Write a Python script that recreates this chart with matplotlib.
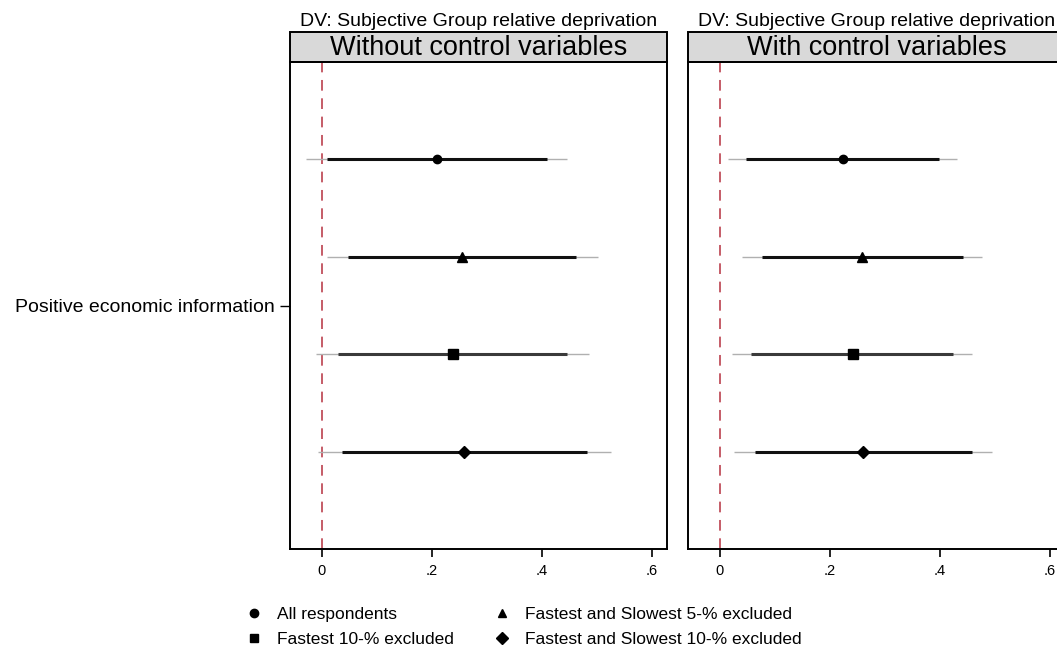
import matplotlib.pyplot as plt
from matplotlib.lines import Line2D
from matplotlib.patches import Rectangle

plt.rcParams['font.family'] = ['Liberation Sans', 'DejaVu Sans']

# =========================
# Data
# =========================
series = ["All respondents", "Fastest 10-% excluded",
          "Fastest and Slowest 5-% excluded", "Fastest and Slowest 10-% excluded"]
markers = ["o", "s", "^", "D"]
# row order top to bottom: all, F&S 5%, fastest 10%, F&S 10%
row_pos = {"All respondents": 1.30, "Fastest and Slowest 5-% excluded": 1.10,
           "Fastest 10-% excluded": 0.90, "Fastest and Slowest 10-% excluded": 0.70}

panels = ["Without control variables", "With control variables"]

# point estimates, 90% CI, 95% CI  (order = series)
coef_wo = [0.209, 0.238, 0.255, 0.259]
ci90_lo_wo = [0.009, 0.030, 0.048, 0.036]
ci90_hi_wo = [0.409, 0.445, 0.462, 0.482]
ci95_lo_wo = [-0.029, -0.010, 0.009, -0.007]
ci95_hi_wo = [0.446, 0.485, 0.502, 0.525]

coef_w = [0.223, 0.241, 0.258, 0.260]
ci90_lo_w = [0.047, 0.057, 0.076, 0.064]
ci90_hi_w = [0.398, 0.423, 0.441, 0.458]
ci95_lo_w = [0.014, 0.022, 0.041, 0.026]
ci95_hi_w = [0.431, 0.458, 0.476, 0.495]

data = [
    (coef_wo, ci90_lo_wo, ci90_hi_wo, ci95_lo_wo, ci95_hi_wo),
    (coef_w, ci90_lo_w, ci90_hi_w, ci95_lo_w, ci95_hi_w),
]

xticks = [0, 0.2, 0.4, 0.6]
xticklabels = ["0", ".2", ".4", ".6"]
ylabel_cat = "Positive economic information"
dv_title = "DV: Subjective Group relative deprivation"

# =========================
# Figure
# =========================
fig = plt.figure(figsize=(10.57, 6.5), dpi=100)
W, H = 1057, 650
ax_w = 377 / W
ax_b = 1 - 549 / H
ax_h = (549 - 62) / H
lefts = [290 / W, 688 / W]

for i, (name, (coef, lo90, hi90, lo95, hi95)) in enumerate(zip(panels, data)):
    ax = fig.add_axes([lefts[i], ax_b, ax_w, ax_h])
    ax.axvline(0, color="#b5303f", lw=1.1, ls=(0, (7, 5)), zorder=1)
    for j, s in enumerate(series):
        y = row_pos[s]
        ax.plot([lo95[j], hi95[j]], [y, y], color="#b0b0b0", lw=1.0, zorder=2,
                solid_capstyle="butt")
        thick_col = "#3a3a3a" if s == "Fastest 10-% excluded" else "#111111"
        ax.plot([lo90[j], hi90[j]], [y, y], color=thick_col, lw=2.2, zorder=3,
                solid_capstyle="butt")
        ms = 6 if markers[j] in ("o", "D") else 6.5
        ax.plot(coef[j], y, marker=markers[j], color="black", ms=ms, zorder=4,
                ls="none")

    ax.set_xlim(-0.058, 0.627)
    ax.set_ylim(0.5, 1.5)
    ax.set_xticks(xticks)
    ax.set_xticklabels(xticklabels, fontsize=10.5)
    ax.tick_params(axis="x", length=6, width=1.2, pad=5)
    if i == 0:
        ax.set_yticks([1.0])
        ax.set_yticklabels([ylabel_cat], fontsize=14)
        ax.tick_params(axis="y", length=7, width=1.0, pad=4)
    else:
        ax.set_yticks([])
    for sp in ax.spines.values():
        sp.set_linewidth(1.4)
        sp.set_color("black")

    # strip header
    strip_h = 30 / 487
    ax.add_patch(Rectangle((0, 1), 1, strip_h, transform=ax.transAxes,
                           facecolor="#d9d9d9", edgecolor="black", lw=1.4,
                           clip_on=False))
    ax.text(0.5, 1 + strip_h / 2 - 0.002, name, transform=ax.transAxes, ha="center",
            va="center", fontsize=19.5)
    ax.text(0.5, 1 + 40 / 487, dv_title, transform=ax.transAxes, ha="center",
            va="center", fontsize=14)

# =========================
# Legend
# =========================
handles = [Line2D([], [], marker=m, color="black", ls="none", ms=6) for m in markers]
fig.legend(handles, series, loc="center", bbox_to_anchor=(0.491, 0.035), ncol=2,
           frameon=False, fontsize=12.5, handletextpad=0.35, columnspacing=1.75,
           labelspacing=0.55)

fig.savefig("out.png", dpi=100)
